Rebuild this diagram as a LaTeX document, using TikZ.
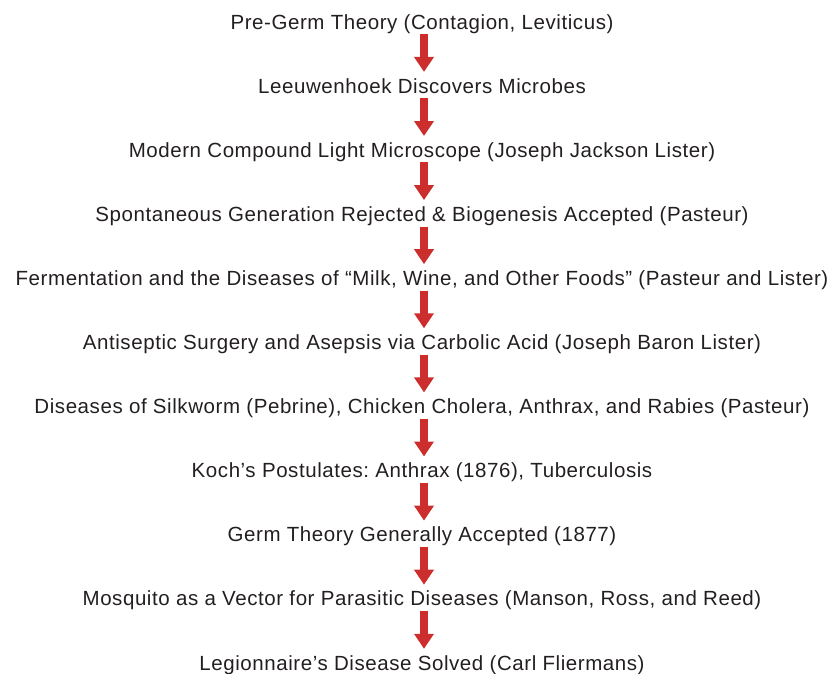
\documentclass[tikz,border=0pt]{standalone}
\usepackage{fontspec}
\setmainfont{Liberation Sans}[LetterSpace=2.8]
\usepackage{xcolor}
\usetikzlibrary{arrows.meta}
\frenchspacing
\definecolor{stepred}{RGB}{204,46,46}
\definecolor{steptext}{RGB}{35,31,32}
\tikzset{
  event/.style={anchor=base,inner sep=0pt,text height=15pt,text depth=5pt,
    font=\fontsize{20.5pt}{22pt}\selectfont,text=steptext},
  nextarrow/.style={draw=stepred,line width=8.5pt,shorten >=6pt,
    -{Triangle[width=19pt,length=15pt]}}
}

\begin{document}
\begin{tikzpicture}[x=1pt,y=1pt,line cap=butt,line join=miter]
  \useasboundingbox (0,0) rectangle (832,-673);
  \node[event] (pregerm)   at (422,-29.0)  {Pre-Germ Theory (Contagion, Leviticus)};
  \node[event] (leeuw)     at (422,-93.1)  {Leeuwenhoek Discovers Microbes};
  \node[event] (micro)     at (422,-157.2) {Modern Compound Light Microscope (Joseph Jackson Lister)};
  \node[event] (spont)     at (422,-221.3) {Spontaneous Generation Rejected \& Biogenesis Accepted (Pasteur)};
  \node[event] (ferment)   at (422,-285.4) {Fermentation and the Diseases of “Milk, Wine, and Other Foods” (Pasteur and Lister)};
  \node[event] (antisep)   at (422,-349.5) {Antiseptic Surgery and Asepsis via Carbolic Acid (Joseph Baron Lister)};
  \node[event] (silkworm)  at (422,-413.6) {Diseases of Silkworm (Pebrine), Chicken Cholera, Anthrax, and Rabies (Pasteur)};
  \node[event] (koch)      at (422,-477.7) {Koch’s Postulates: Anthrax (1876), Tuberculosis};
  \node[event] (accepted)  at (422,-541.8) {Germ Theory Generally Accepted (1877)};
  \node[event] (mosquito)  at (422,-605.9) {Mosquito as a Vector for Parasitic Diseases (Manson, Ross, and Reed)};
  \node[event] (legion)    at (422,-670.0) {Legionnaire’s Disease Solved (Carl Fliermans)};
  % arrows between the events
  \draw[nextarrow] ([xshift=2pt]pregerm.south)  -- ([xshift=2pt]leeuw.north);
  \draw[nextarrow] ([xshift=2pt]leeuw.south)    -- ([xshift=2pt]micro.north);
  \draw[nextarrow] ([xshift=2pt]micro.south)    -- ([xshift=2pt]spont.north);
  \draw[nextarrow] ([xshift=2pt]spont.south)    -- ([xshift=2pt]ferment.north);
  \draw[nextarrow] ([xshift=2pt]ferment.south)  -- ([xshift=2pt]antisep.north);
  \draw[nextarrow] ([xshift=2pt]antisep.south)  -- ([xshift=2pt]silkworm.north);
  \draw[nextarrow] ([xshift=2pt]silkworm.south) -- ([xshift=2pt]koch.north);
  \draw[nextarrow] ([xshift=2pt]koch.south)     -- ([xshift=2pt]accepted.north);
  \draw[nextarrow] ([xshift=2pt]accepted.south) -- ([xshift=2pt]mosquito.north);
  \draw[nextarrow] ([xshift=2pt]mosquito.south) -- ([xshift=2pt]legion.north);
\end{tikzpicture}
\end{document}
